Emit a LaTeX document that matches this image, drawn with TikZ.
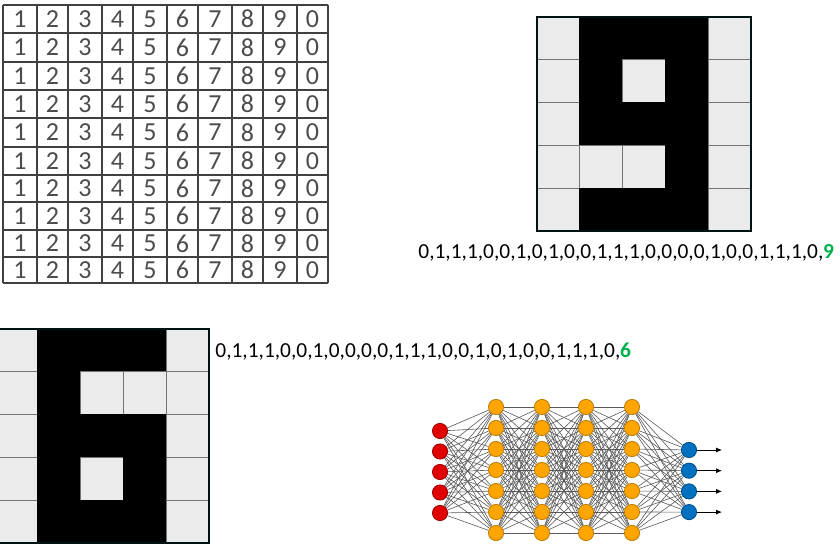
\documentclass[tikz,border=0pt]{standalone}
\usepackage{fontspec}
\setmainfont{Carlito}
\usepackage{xcolor}
\usepackage{tikz}
\usetikzlibrary{backgrounds,arrows.meta}

\definecolor{pixlight}{HTML}{EBEBEB}
\definecolor{bitgreen}{HTML}{00B050}
\definecolor{inred}{HTML}{E00000}
\definecolor{hidorange}{HTML}{FFA500}
\definecolor{outblue}{HTML}{0070C0}

\begin{document}
\begin{tikzpicture}[x=0.5pt, y=-0.5pt,
    hand/.style={draw=black!75, line width=0.8pt},
    digit/.style={inner sep=0pt, text=black!70, font=\fontsize{13}{13}\selectfont},
    pix0/.style={rectangle, draw=black!55, line width=0.5pt, fill=pixlight, minimum size=21.4pt, inner sep=0pt, outer sep=0pt},
    pix1/.style={pix0, draw=black, fill=black},
    frame/.style={draw=black!85!teal, line width=1pt},
    bits/.style={anchor=west, inner sep=0pt, font=\fontsize{10.7}{12}\selectfont},
    neuron/.style={circle, minimum size=7.6pt, inner sep=0pt, line width=0.4pt},
    inpt/.style={neuron, fill=inred, draw=inred!70!black},
    hid/.style={neuron, fill=hidorange, draw=hidorange!75!black},
    outpt/.style={neuron, fill=outblue, draw=outblue!70!black},
    link/.style={draw=black!65, line width=0.3pt},
    arrow/.style={-{Latex[length=3pt,width=2.5pt]}, line width=0.4pt}
]
    \useasboundingbox (0,0) rectangle (840,550);

    % Handwritten digit sheet
    \foreach \x in {3,37,68,102,133,167,198,232,263,297,328}
        \draw[hand] (\x,5) -- (\x,283);
    \foreach \y in {5,33,62,90,118,147,175,202,230,257,283}
        \draw[hand] (3,\y) -- (328,\y);
    \foreach \ya/\yb [count=\r] in {5/33,33/62,62/90,90/118,118/147,147/175,175/202,202/230,230/257,257/283}
        \foreach \xa/\xb [count=\c] in {3/37,37/68,68/102,102/133,133/167,167/198,198/232,232/263,263/297,297/328} {
            \pgfmathtruncatemacro\dig{mod(\c,10)}
            \node[digit] (d-\r-\c) at ({(\xa+\xb)/2},{(\ya+\yb)/2}) {\dig};
        }

    % Pixel grid - nine
    \foreach \row [count=\r] in {{0,1,1,1,0},{0,1,0,1,0},{0,1,1,1,0},{0,0,0,1,0},{0,1,1,1,0}}
        \foreach \v [count=\c] in \row
            \node[pix\v] (nine-\r-\c) at ({537+42.8*(\c-0.5)},{17+42.8*(\r-0.5)}) {};
    \draw[frame] (nine-1-1.north west) rectangle (nine-5-5.south east);
    \node[bits] (code9) at (418,253) {0,1,1,1,0,0,1,0,1,0,0,1,1,1,0,0,0,0,1,0,0,1,1,1,0,\textcolor{bitgreen}{\textbf{9}}};

    % Pixel grid - six
    \foreach \row [count=\r] in {{0,1,1,1,0},{0,1,0,0,0},{0,1,1,1,0},{0,1,0,1,0},{0,1,1,1,0}}
        \foreach \v [count=\c] in \row
            \node[pix\v] (six-\r-\c) at ({-5+42.8*(\c-0.5)},{329+42.8*(\r-0.5)}) {};
    \draw[frame] (six-1-1.north west) rectangle (six-5-5.south east);
    \node[bits] (code6) at (215,352) {0,1,1,1,0,0,1,0,0,0,0,1,1,1,0,0,1,0,1,0,0,1,1,1,0,\textcolor{bitgreen}{\textbf{6}}};

    % Neural network
    \foreach \i in {1,...,5}
        \node[inpt] (in-\i) at (440,{431+20.5*(\i-1)}) {};
    \foreach \x [count=\l] in {496,542,586,632}
        \foreach \j in {1,...,7}
            \node[hid] (h\l-\j) at (\x,{407+21*(\j-1)}) {};
    \foreach \k in {1,...,4} {
        \node[outpt] (out-\k) at (689,{450+20.7*(\k-1)}) {};
        \coordinate (end-\k) at (722,{450+20.7*(\k-1)});
        \draw[arrow] (out-\k) -- (end-\k);
    }

    \begin{pgfonlayer}{background}
        \foreach \i in {1,...,5}
            \foreach \j in {1,...,7}
                \draw[link] (in-\i) -- (h1-\j);
        \foreach \a/\b in {1/2,2/3,3/4}
            \foreach \i in {1,...,7}
                \foreach \j in {1,...,7}
                    \draw[link] (h\a-\i) -- (h\b-\j);
        \foreach \i in {1,...,7}
            \foreach \k in {1,...,4}
                \draw[link] (h4-\i) -- (out-\k);
    \end{pgfonlayer}
\end{tikzpicture}
\end{document}
